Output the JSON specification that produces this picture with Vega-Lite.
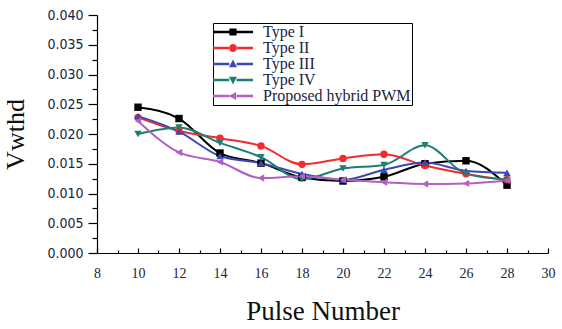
{
  "$schema": "https://vega.github.io/schema/vega-lite/v6.json",
  "width": 451,
  "height": 238,
  "autosize": "none",
  "padding": {"left": 97, "top": 15, "right": 14, "bottom": 76},
  "background": "white",
  "config": {"view": {"stroke": null}},
  "data": {"values": [
    {"series": "Type I", "pulse": 10, "v": 0.0245},
    {"series": "Type I", "pulse": 12, "v": 0.0226},
    {"series": "Type I", "pulse": 14, "v": 0.0168},
    {"series": "Type I", "pulse": 16, "v": 0.0151},
    {"series": "Type I", "pulse": 18, "v": 0.0127},
    {"series": "Type I", "pulse": 20, "v": 0.0121},
    {"series": "Type I", "pulse": 22, "v": 0.0128},
    {"series": "Type I", "pulse": 24, "v": 0.0150},
    {"series": "Type I", "pulse": 26, "v": 0.0155},
    {"series": "Type I", "pulse": 28, "v": 0.0114},
    {"series": "Type II", "pulse": 10, "v": 0.0228},
    {"series": "Type II", "pulse": 12, "v": 0.0205},
    {"series": "Type II", "pulse": 14, "v": 0.0193},
    {"series": "Type II", "pulse": 16, "v": 0.0180},
    {"series": "Type II", "pulse": 18, "v": 0.0149},
    {"series": "Type II", "pulse": 20, "v": 0.0159},
    {"series": "Type II", "pulse": 22, "v": 0.0166},
    {"series": "Type II", "pulse": 24, "v": 0.0147},
    {"series": "Type II", "pulse": 26, "v": 0.0133},
    {"series": "Type II", "pulse": 28, "v": 0.0123},
    {"series": "Type III", "pulse": 10, "v": 0.0230},
    {"series": "Type III", "pulse": 12, "v": 0.0204},
    {"series": "Type III", "pulse": 14, "v": 0.0163},
    {"series": "Type III", "pulse": 16, "v": 0.0151},
    {"series": "Type III", "pulse": 18, "v": 0.0133},
    {"series": "Type III", "pulse": 20, "v": 0.0123},
    {"series": "Type III", "pulse": 22, "v": 0.0140},
    {"series": "Type III", "pulse": 24, "v": 0.0152},
    {"series": "Type III", "pulse": 26, "v": 0.0138},
    {"series": "Type III", "pulse": 28, "v": 0.0135},
    {"series": "Type IV", "pulse": 10, "v": 0.0200},
    {"series": "Type IV", "pulse": 12, "v": 0.0211},
    {"series": "Type IV", "pulse": 14, "v": 0.0185},
    {"series": "Type IV", "pulse": 16, "v": 0.0161},
    {"series": "Type IV", "pulse": 18, "v": 0.0124},
    {"series": "Type IV", "pulse": 20, "v": 0.0142},
    {"series": "Type IV", "pulse": 22, "v": 0.0148},
    {"series": "Type IV", "pulse": 24, "v": 0.0181},
    {"series": "Type IV", "pulse": 26, "v": 0.0133},
    {"series": "Type IV", "pulse": 28, "v": 0.0123},
    {"series": "Proposed hybrid PWM", "pulse": 10, "v": 0.0222},
    {"series": "Proposed hybrid PWM", "pulse": 12, "v": 0.0169},
    {"series": "Proposed hybrid PWM", "pulse": 14, "v": 0.0153},
    {"series": "Proposed hybrid PWM", "pulse": 16, "v": 0.0126},
    {"series": "Proposed hybrid PWM", "pulse": 18, "v": 0.0129},
    {"series": "Proposed hybrid PWM", "pulse": 20, "v": 0.0123},
    {"series": "Proposed hybrid PWM", "pulse": 22, "v": 0.0119},
    {"series": "Proposed hybrid PWM", "pulse": 24, "v": 0.0116},
    {"series": "Proposed hybrid PWM", "pulse": 26, "v": 0.0117},
    {"series": "Proposed hybrid PWM", "pulse": 28, "v": 0.0122}
  ]},
  "encoding": {
    "x": {"field": "pulse", "type": "quantitative",
      "scale": {"domain": [8, 30], "nice": false},
      "axis": {
        "title": "Pulse Number",
        "values": [8,9,10,11,12,13,14,15,16,17,18,19,20,21,22,23,24,25,26,27,28,29,30],
        "labelExpr": "datum.value % 2 == 0 ? datum.label : ''",
        "grid": false,
        "domainColor": "#000", "domainWidth": 1.2,
        "tickColor": "#000", "tickWidth": 1.2,
        "tickSize": {"condition": {"test": "datum.value % 2 == 0", "value": -5}, "value": -3},
        "labelFont": "Liberation Serif", "labelFontSize": 14, "labelColor": "#1a2440",
        "labelPadding": 18, "labelFlush": false,
        "titleFont": "Liberation Serif", "titleFontSize": 27, "titleFontWeight": "normal", "titleColor": "#111",
        "titlePadding": 18
      }
    },
    "y": {"field": "v", "type": "quantitative",
      "scale": {"domain": [0, 0.04], "nice": false},
      "axis": {
        "title": "Vwthd",
        "values": [0,0.0025,0.005,0.0075,0.01,0.0125,0.015,0.0175,0.02,0.0225,0.025,0.0275,0.03,0.0325,0.035,0.0375,0.04],
        "format": ".3f",
        "labelExpr": "round(datum.value*400) % 2 == 0 ? datum.label : ''",
        "grid": false,
        "domainColor": "#000", "domainWidth": 1.2,
        "tickColor": "#000", "tickWidth": 1.2,
        "tickSize": {"condition": {"test": "round(datum.value*400) % 2 == 0", "value": 9}, "value": 5},
        "labelFont": "DejaVu Sans Condensed", "labelFontSize": 14, "labelColor": "#1a2440",
        "labelPadding": 5,
        "titleFont": "Liberation Serif", "titleFontSize": 26, "titleFontWeight": "normal", "titleColor": "#111",
        "titlePadding": 18
      }
    }
  },
  "layer": [
    {"mark": {"type": "line", "interpolate": "monotone", "strokeWidth": 2},
     "encoding": {"color": {"field": "series", "type": "nominal",
      "scale": {"domain": ["Type I", "Type II", "Type III", "Type IV", "Proposed hybrid PWM"],
                "range": ["#000000", "#f52a2a", "#3b48b8", "#1c7f72", "#b35fc3"]},
      "legend": null}}},
    {"mark": {"type": "point", "filled": true, "opacity": 1, "size": 55},
     "encoding": {
       "color": {"field": "series", "type": "nominal",
         "scale": {"domain": ["Type I", "Type II", "Type III", "Type IV", "Proposed hybrid PWM"],
                   "range": ["#000000", "#f52a2a", "#3b48b8", "#1c7f72", "#b35fc3"]},
         "legend": null},
       "shape": {"field": "series", "type": "nominal",
       "scale": {"domain": ["Type I", "Type II", "Type III", "Type IV", "Proposed hybrid PWM"],
                 "range": ["square", "circle", "triangle-up", "triangle-down", "triangle-left"]},
       "legend": null}}},
    {"mark": {"type": "point", "filled": true, "opacity": 0},
     "encoding": {
       "color": {"field": "series", "type": "nominal", "title": null,
         "scale": {"domain": ["Type I", "Type II", "Type III", "Type IV", "Proposed hybrid PWM"],
                   "range": ["#000000", "#f52a2a", "#3b48b8", "#1c7f72", "#b35fc3"]},
         "legend": {
         "title": null, "orient": "none", "legendX": 116, "legendY": 8,
         "symbolSize": 64, "symbolOpacity": 1, "symbolStrokeWidth": 0,
         "symbolOffset": 11, "labelOffset": 22,
         "labelFont": "Liberation Serif", "labelFontSize": 16, "labelColor": "#1a2440",
         "rowPadding": -2, "padding": 1,
         "strokeColor": "#000", "fillColor": "#fff"}},
       "shape": {"field": "series", "type": "nominal", "title": null,
       "scale": {"domain": ["Type I", "Type II", "Type III", "Type IV", "Proposed hybrid PWM"],
                 "range": [
                   "M-5,-0.3H-0.9V0.3H-5Z M0.9,-0.3H5V0.3H0.9Z M-0.9,-0.9H0.9V0.9H-0.9Z",
                   "M-5,-0.3H-0.9V0.3H-5Z M0.9,-0.3H5V0.3H0.9Z M-1,0A1,1 0 1,0 1,0A1,1 0 1,0 -1,0Z",
                   "M-5,-0.3H-0.9V0.3H-5Z M0.9,-0.3H5V0.3H0.9Z M0,-1.1L1,0.8H-1Z",
                   "M-5,-0.3H-0.9V0.3H-5Z M0.9,-0.3H5V0.3H0.9Z M0,1.1L1,-0.8H-1Z",
                   "M-5,-0.3H-0.9V0.3H-5Z M0.9,-0.3H5V0.3H0.9Z M-1.1,0L0.8,-1V1Z"
                 ]},
       "legend": {
         "title": null, "orient": "none", "legendX": 116, "legendY": 8,
         "symbolSize": 64, "symbolOpacity": 1, "symbolStrokeWidth": 0,
         "symbolOffset": 11, "labelOffset": 22,
         "labelFont": "Liberation Serif", "labelFontSize": 16, "labelColor": "#1a2440",
         "rowPadding": -2, "padding": 1,
         "strokeColor": "#000", "fillColor": "#fff"
       }}}}
  ],
  "resolve": {"scale": {"shape": "independent", "color": "independent"}}
}
